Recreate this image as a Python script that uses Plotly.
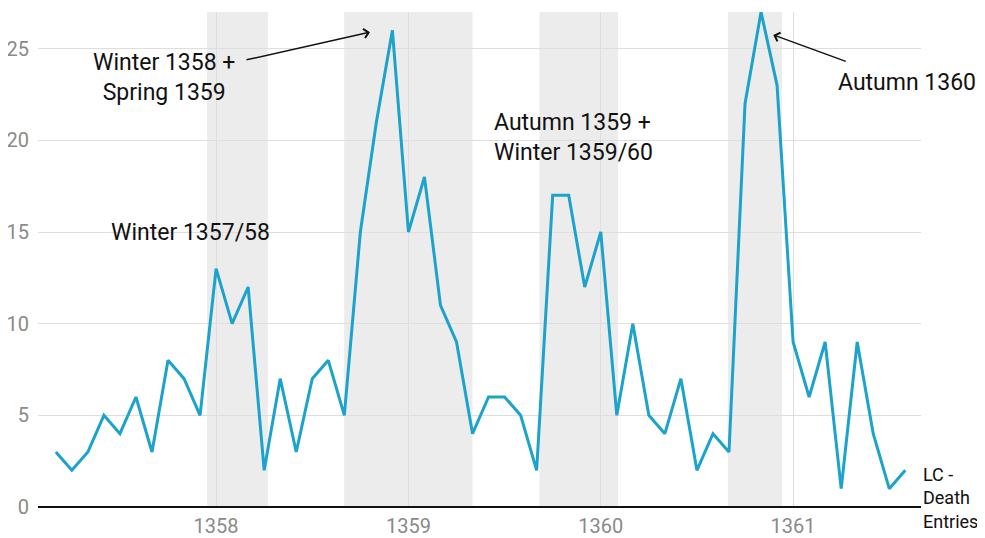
import plotly.graph_objects as go

# Monthly death entries, starting March 1357 (x = 1357 + (2 + i)/12)
start_year = 1357
start_month_index = 2
deaths = [3, 2, 3, 5, 4, 6, 3, 8, 7, 5,
          13, 10, 12, 2, 7, 3, 7, 8, 5, 15, 21, 26,
          15, 18, 11, 9, 4, 6, 6, 5, 2, 17, 17, 12,
          15, 5, 10, 5, 4, 7, 2, 4, 3, 22, 27, 23,
          9, 6, 9, 1, 9, 4, 1, 2]
x_vals = [start_year + (start_month_index + i) / 12 for i in range(len(deaths))]

# Shaded seasons (start, end) in fractional years
season_starts = [1357.953, 1358.666, 1359.681, 1360.661]
season_ends = [1358.269, 1359.333, 1360.090, 1360.942]

year_ticks = [1358, 1359, 1360, 1361]
y_ticks = [0, 5, 10, 15, 20, 25]

LINE = "#1ba3cc"
FONT = "Roboto"

fig = go.Figure()

for s, e in zip(season_starts, season_ends):
    fig.add_vrect(x0=s, x1=e, fillcolor="#ececec", line_width=0, layer="below")

fig.add_trace(go.Scatter(x=x_vals, y=deaths, mode="lines",
                         line=dict(color=LINE, width=3), name="LC - Death Entries",
                         showlegend=False))

ann_font = dict(family=FONT, size=23, color="#111111")
fig.add_annotation(x=1357.865, y=14.95, text="Winter 1357/58", showarrow=False,
                   font=ann_font, xanchor="center", yanchor="middle")
fig.add_annotation(x=1358.80, y=25.9, ax=-125, ay=28,
                   text="", showarrow=True, arrowhead=4, arrowsize=1.2, arrowwidth=1.5,
                   arrowcolor="#111111")
fig.add_annotation(x=1357.73, y=23.45, text="Winter 1358 +<br>Spring 1359", showarrow=False,
                   font=ann_font, xanchor="center", yanchor="middle", align="center")
fig.add_annotation(x=1359.857, y=20.13, text="Autumn 1359 +<br>Winter 1359/60", showarrow=False,
                   font=ann_font, xanchor="center", yanchor="middle", align="left")
fig.add_annotation(x=1361.592, y=23.18, text="Autumn 1360", showarrow=False,
                   font=ann_font, xanchor="center", yanchor="middle")
fig.add_annotation(x=1360.897, y=25.75, text="", showarrow=True, arrowhead=4, arrowsize=1.2,
                   arrowwidth=1.5, arrowcolor="#111111", ax=74, ay=27)
fig.add_annotation(xref="paper", x=1.0, y=0.5, text="LC -<br>Death<br>Entries",
                   showarrow=False, xanchor="left", yanchor="middle", align="left",
                   font=dict(family=FONT, size=18, color="#111111"))

# The page body adds an 8px offset, so the figure is sized to fill the rest.
fig.update_layout(
    width=977, height=530,
    margin=dict(l=30, r=64, t=4, b=31),
    plot_bgcolor="white", paper_bgcolor="white",
    font=dict(family=FONT, color="#8a8a8a"),
    xaxis=dict(range=[1357.074, 1361.665], tickvals=year_ticks,
               ticktext=[str(v) for v in year_ticks],
               showgrid=True, gridcolor="#dedede", gridwidth=1,
               zeroline=False, showline=False, ticks="", automargin=False,
               ticklabelstandoff=5,
               tickfont=dict(family=FONT, size=20, color="#8a8a8a")),
    yaxis=dict(range=[0, 27], tickvals=y_ticks,
               showgrid=True, gridcolor="#dedede", gridwidth=1,
               zeroline=True, zerolinecolor="#111111", zerolinewidth=2,
               showline=False, ticks="", automargin=False,
               ticklabelstandoff=8,
               tickfont=dict(family=FONT, size=20, color="#8a8a8a")),
)

fig.write_html("out.html")
